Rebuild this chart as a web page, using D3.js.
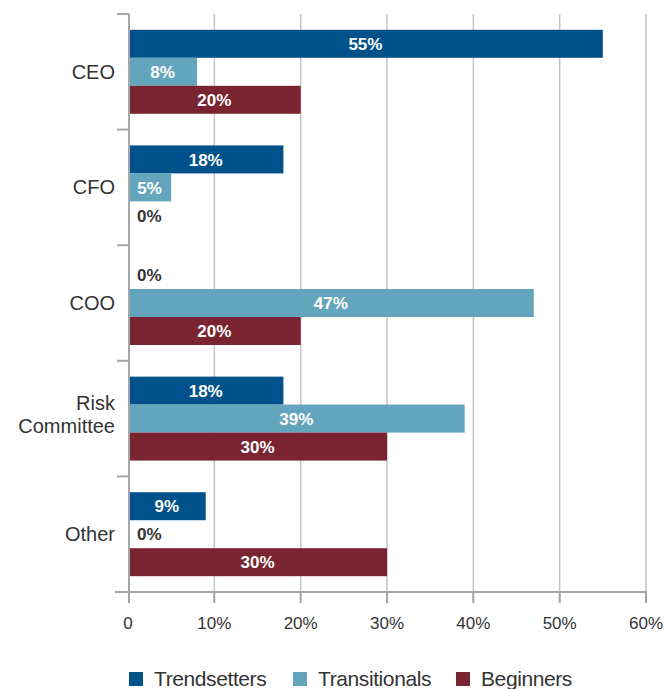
<!DOCTYPE html>
<html><head><meta charset="utf-8">
<script src="https://cdn.jsdelivr.net/npm/d3@7"></script>
<style>body{margin:0;background:#fff}svg{display:block}</style>
</head><body>
<script>
const categories = ["CEO","CFO","COO","Risk Committee","Other"];
const seriesNames = ["Trendsetters","Transitionals","Beginners"];
const trendsetters = [55,18,0,18,9];
const transitionals = [8,5,47,39,0];
const beginners = [20,0,20,30,30];
const tickValues = [0,10,20,30,40,50,60];
const tickLabels = ["0","10%","20%","30%","40%","50%","60%"];
const colors = ["#01528a","#63a5bd","#7b2431"];
const series = [trendsetters, transitionals, beginners];

const W = 668, H = 689;
const svg = d3.select("body").append("svg").attr("width",W).attr("height",H);
const font = "Liberation Sans, Arial, sans-serif";

const x = d3.scaleLinear().domain([0,60]).range([128,646]);
const y = d3.scaleBand().domain(categories).range([14,592]);
const inner = d3.scaleBand().domain(seriesNames).range([0,y.bandwidth()]).paddingInner(0).paddingOuter(0.565);

const axisColor = "#a3a7ab";
// gridlines
svg.append("g").selectAll("line").data(tickValues.slice(1)).join("line")
  .attr("x1",d=>x(d)).attr("x2",d=>x(d)).attr("y1",14).attr("y2",603)
  .attr("stroke","#c2c4c7").attr("stroke-width",1.5);

// bars
const groups = svg.append("g").selectAll("g").data(categories).join("g")
  .attr("transform",c=>`translate(0,${y(c)})`);
groups.each(function(c,i){
  const g = d3.select(this);
  seriesNames.forEach((s,j)=>{
    const v = series[j][i];
    const by = inner(s), bh = inner.bandwidth();
    if(v>0){
      g.append("rect").attr("x",x(0)).attr("y",by).attr("width",x(v)-x(0)).attr("height",bh).attr("fill",colors[j]);
      g.append("text").attr("x",(x(0)+x(v))/2).attr("y",by+bh/2).attr("dy","0.36em")
        .attr("text-anchor","middle").attr("fill","#fff").attr("font-weight","bold")
        .attr("font-family",font).attr("font-size",17).text(v+"%");
    } else {
      g.append("text").attr("x",x(0)+9).attr("y",by+bh/2).attr("dy","0.36em")
        .attr("text-anchor","start").attr("fill","#333").attr("font-weight","bold")
        .attr("font-family",font).attr("font-size",17).text(v+"%");
    }
  });
});

// y axis
svg.append("line").attr("x1",129).attr("x2",129).attr("y1",14).attr("y2",603).attr("stroke",axisColor).attr("stroke-width",2);
const bounds = categories.map(c=>y(c)).concat([y.range()[1]]);
svg.append("g").selectAll("line").data(bounds).join("line")
  .attr("x1",117).attr("x2",129).attr("y1",d=>d).attr("y2",d=>d).attr("stroke",axisColor).attr("stroke-width",2);
// x axis
svg.append("line").attr("x1",115).attr("x2",647).attr("y1",592).attr("y2",592).attr("stroke",axisColor).attr("stroke-width",2);
svg.append("g").selectAll("line").data(tickValues).join("line")
  .attr("x1",d=>x(d)+(d===0?1:0)).attr("x2",d=>x(d)+(d===0?1:0)).attr("y1",592).attr("y2",603)
  .attr("stroke",axisColor).attr("stroke-width",2);
svg.append("g").selectAll("text").data(tickValues).join("text")
  .attr("x",d=>x(d)).attr("y",629).attr("text-anchor","middle")
  .attr("font-family",font).attr("font-size",17).attr("fill","#333")
  .text((d,i)=>tickLabels[i]);

// category labels
categories.forEach(c=>{
  const words = c==="Risk Committee" ? ["Risk","Committee"] : [c];
  const cy = y(c)+y.bandwidth()/2 - (words.length>1?4:0);
  const t = svg.append("text").attr("text-anchor","end").attr("font-family",font)
    .attr("font-size",20).attr("fill","#333");
  words.forEach((w,k)=>{
    t.append("tspan").attr("x",115).attr("y",cy + (k-(words.length-1)/2)*22.5).attr("dy","0.35em").text(w);
  });
});

// legend
const legX = [129,293,456];
seriesNames.forEach((s,j)=>{
  svg.append("rect").attr("x",legX[j]).attr("y",672).attr("width",14).attr("height",14).attr("fill",colors[j]);
  svg.append("text").attr("x",legX[j]+25).attr("y",686).attr("font-family",font).attr("font-size",21)
    .attr("letter-spacing",-0.4).attr("fill","#333").text(s);
});
</script>
</body></html>
